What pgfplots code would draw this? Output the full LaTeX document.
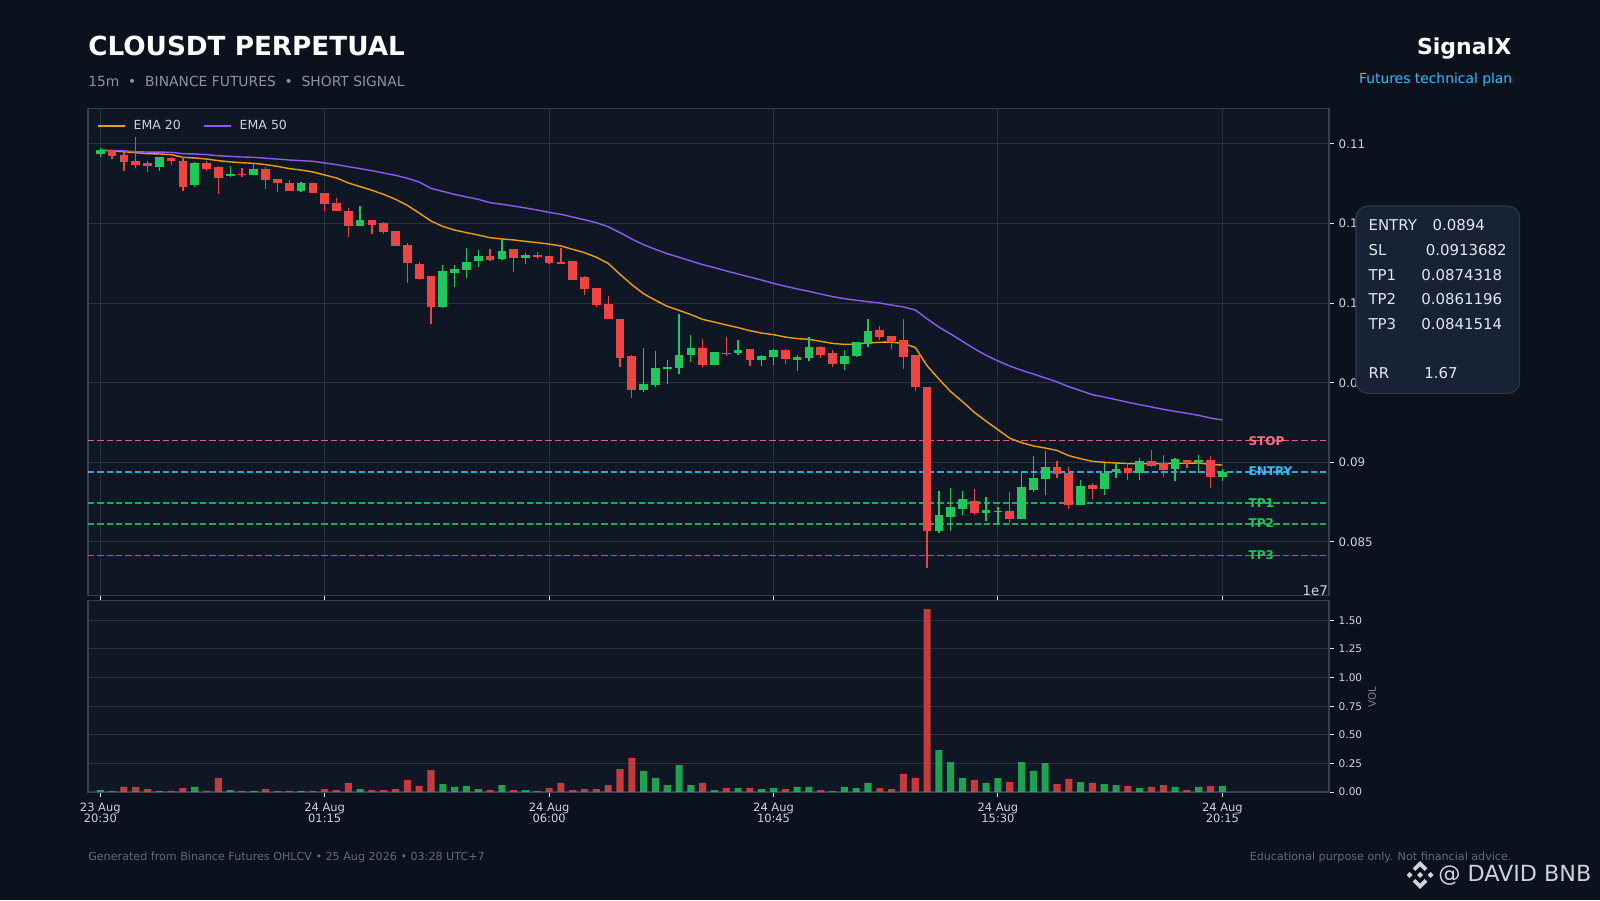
\documentclass[border=0pt]{standalone}
\usepackage{pgfplots}
\usepackage{pgfplotstable}
\usepackage{fontspec}
\setmainfont{DejaVu Sans}
\pgfplotsset{compat=1.18}
\definecolor{bg}{HTML}{0B111D}
\definecolor{panel}{HTML}{101724}
\definecolor{gridc}{HTML}{273241}
\definecolor{framec}{HTML}{334155}
\definecolor{tickc}{HTML}{E2E8F0}
\definecolor{labc}{HTML}{CBD5E1}
\definecolor{cR}{HTML}{EF4444}
\definecolor{cG}{HTML}{22C55E}
\definecolor{cO}{HTML}{F59E0B}
\definecolor{cP}{HTML}{8B5CF6}
\definecolor{cS}{HTML}{FB7185}
\definecolor{cE}{HTML}{38BDF8}
\definecolor{boxf}{HTML}{172334}
\definecolor{boxd}{HTML}{2C3A4D}
\definecolor{logoc}{HTML}{D0D5DD}
\pgfplotstableread{
i low bl bh high vol
1 .10907 .10926 .10962 .10962 .009
2 .10828 .10889 .10928 .10951 .044
3 .10851 .10868 .10893 .11046 .044
4 .10822 .10861 .10880 .10895 .026
6 .10866 .10893 .10912 .10918 .009
7 .10706 .10729 .10893 .10916 .035
9 .10832 .10843 .10878 .10895 .009
10 .10683 .10788 .10855 .10859 .122
12 .10794 .10803 .10811 .10847 .009
14 .10715 .10776 .10843 .10857 .026
15 .10696 .10757 .10780 .10780 .009
16 .10702 .10704 .10755 .10771 .009
18 .10690 .10692 .10755 .10757 .009
19 .10577 .10625 .10692 .10692 .026
20 .10577 .10581 .10629 .10658 .017
21 .10417 .10487 .10579 .10595 .079
23 .10436 .10493 .10522 .10522 .017
24 .10432 .10449 .10503 .10512 .017
25 .10359 .10361 .10453 .10453 .026
26 .10129 .10254 .10365 .10380 .105
27 .10147 .10154 .10246 .10260 .052
28 .09867 .09978 .10170 .10170 .192
33 .10267 .10271 .10296 .10338 .017
35 .10198 .10284 .10340 .10340 .017
37 .10279 .10290 .10302 .10319 .009
38 .10244 .10252 .10296 .10296 .035
39 .10244 .10248 .10258 .10344 .079
40 .10145 .10145 .10265 .10265 .017
41 .10053 .10089 .10164 .10168 .026
42 .09978 .09988 .10095 .10097 .026
43 .09898 .09900 .09995 .10043 .061
44 .09601 .09655 .09900 .09900 .201
45 .09406 .09454 .09668 .09672 .297
51 .09601 .09611 .09718 .09777 .079
53 .09670 .09678 .09687 .09785 .035
55 .09607 .09643 .09712 .09712 .035
58 .09620 .09649 .09706 .09714 .026
61 .09657 .09674 .09724 .09729 .017
62 .09601 .09618 .09687 .09704 .009
66 .09771 .09787 .09831 .09854 .035
67 .09714 .09762 .09794 .09794 .026
68 .09588 .09662 .09768 .09898 .157
69 .09450 .09473 .09674 .09674 .122
70 .08338 .08569 .09473 .09473 1.599
74 .08671 .08682 .08757 .08830 .105
77 .08621 .08644 .08694 .08812 .087
81 .08904 .08927 .08971 .09006 .070
82 .08709 .08732 .08933 .08969 .114
84 .08772 .08832 .08858 .08868 .079
87 .08891 .08933 .08964 .08994 .052
89 .08973 .08977 .09008 .09075 .044
90 .08910 .08952 .08996 .09044 .061
92 .08966 .09002 .09015 .09017 .017
94 .08841 .08908 .09015 .09038 .052
}\redc
\pgfplotstableread{
i low bl bh high vol
0 .10916 .10939 .10960 .10977 .017
5 .10828 .10857 .10918 .10918 .009
8 .10732 .10744 .10878 .10889 .044
11 .10794 .10799 .10811 .10859 .017
13 .10805 .10807 .10843 .10882 .009
17 .10696 .10704 .10755 .10763 .009
22 .10485 .10487 .10522 .10612 .026
29 .09967 .09978 .10200 .10242 .070
30 .10099 .10191 .10214 .10242 .044
31 .10156 .10210 .10256 .10348 .052
32 .10225 .10265 .10296 .10336 .026
34 .10273 .10277 .10327 .10405 .061
36 .10244 .10284 .10302 .10317 .017
46 .09444 .09454 .09492 .09720 .184
47 .09471 .09486 .09593 .09701 .122
48 .09494 .09586 .09599 .09645 .061
49 .09553 .09593 .09674 .09934 .236
50 .09628 .09674 .09718 .09802 .061
52 .09609 .09611 .09693 .09693 .017
54 .09676 .09687 .09706 .09771 .035
56 .09607 .09643 .09668 .09672 .026
57 .09613 .09662 .09706 .09712 .035
59 .09576 .09643 .09662 .09676 .044
60 .09639 .09655 .09724 .09785 .044
63 .09582 .09618 .09668 .09708 .044
64 .09660 .09668 .09756 .09758 .035
65 .09722 .09745 .09825 .09898 .079
71 .08554 .08569 .08669 .08818 .367
72 .08571 .08657 .08719 .08841 .262
73 .08671 .08707 .08770 .08818 .122
75 .08634 .08682 .08701 .08784 .079
76 .08613 .08690 .08694 .08717 .122
78 .08642 .08644 .08845 .08939 .262
79 .08816 .08826 .08902 .09042 .184
80 .08793 .08895 .08971 .09073 .253
83 .08730 .08732 .08851 .08891 .087
85 .08793 .08832 .08933 .08996 .070
86 .08904 .08939 .08958 .08996 .061
88 .08891 .08933 .09008 .09025 .035
91 .08885 .08958 .09021 .09025 .044
93 .08935 .09002 .09015 .09044 .044
95 .08883 .08908 .08939 .08960 .052
}\greenc
\pgfplotstableread{
i e20 e50
0 .10960 .10962
1 .10956 .10959
2 .10951 .10956
3 .10945 .10951
4 .10939 .10949
5 .10937 .10949
6 .10933 .10947
7 .10916 .10939
8 .10912 .10937
9 .10905 .10933
10 .10895 .10926
11 .10887 .10922
12 .10882 .10918
13 .10878 .10916
14 .10870 .10910
15 .10859 .10905
16 .10845 .10899
17 .10836 .10895
18 .10824 .10891
19 .10805 .10880
20 .10786 .10870
21 .10755 .10857
22 .10732 .10845
23 .10709 .10832
24 .10683 .10817
25 .10652 .10803
26 .10614 .10784
27 .10566 .10761
28 .10516 .10721
29 .10482 .10702
30 .10459 .10683
31 .10443 .10667
32 .10428 .10652
33 .10411 .10631
34 .10403 .10621
35 .10397 .10610
36 .10388 .10598
37 .10380 .10585
38 .10371 .10570
39 .10359 .10558
40 .10338 .10541
41 .10317 .10524
42 .10288 .10505
43 .10250 .10480
44 .10181 .10443
45 .10116 .10403
46 .10059 .10367
47 .10018 .10338
48 .09980 .10311
49 .09955 .10288
50 .09928 .10265
51 .09898 .10242
52 .09881 .10223
53 .09863 .10202
54 .09846 .10183
55 .09827 .10164
56 .09812 .10145
57 .09802 .10124
58 .09787 .10106
59 .09777 .10089
60 .09773 .10074
61 .09760 .10057
62 .09747 .10041
63 .09741 .10028
64 .09743 .10018
65 .09750 .10009
66 .09754 .10001
67 .09756 .09988
68 .09745 .09976
69 .09722 .09957
70 .09607 .09902
71 .09523 .09850
72 .09444 .09806
73 .09381 .09760
74 .09314 .09714
75 .09258 .09672
76 .09205 .09637
77 .09151 .09605
78 .09124 .09578
79 .09103 .09555
80 .09090 .09530
81 .09075 .09505
82 .09042 .09475
83 .09023 .09450
84 .09006 .09425
85 .09000 .09410
86 .08996 .09394
87 .08992 .09377
88 .08992 .09362
89 .08992 .09348
90 .08992 .09333
91 .08994 .09320
92 .08994 .09308
93 .08996 .09295
94 .08987 .09278
95 .08983 .09266
}\ema
\newcommand{\fs}[1]{\fontsize{#1}{#1}\selectfont}
\begin{document}
\begin{tikzpicture}[x=0.75pt,y=-0.75pt]
\fill[bg] (0,0) rectangle (1600,900);
\path[use as bounding box] (0,0) rectangle (1600,900);
\node[anchor=west,inner sep=0,text=white] at (88,45.5) {\fs{19.7}\bfseries CLOUSDT PERPETUAL};
\node[anchor=west,inner sep=0] at (88,81) {\color[HTML]{8A94A6}\fs{10.4}15m\ \ •\ \ BINANCE FUTURES\ \ •\ \ SHORT SIGNAL};
\node[anchor=east,inner sep=0,text=white] at (1511.5,48.5) {\fs{16.5}\bfseries SignalX};
\node[anchor=east,inner sep=0,text=cE] at (1512.5,79.5) {\fs{10.4}Futures technical plan};
\begin{axis}[
  at={(66pt,-446.475pt)},anchor=south west,
  width=930.75pt,height=365.25pt,scale only axis,
  axis background/.style={fill=panel},
  xmin=-1.04,xmax=104.03,ymin=0.081648,ymax=0.112238,
  axis line style={draw=framec,line width=0.8pt},
  tick align=outside,major tick length=3.75pt,
  tick style={draw=tickc,line width=0.7pt},
  xtick={0,19,38,57,76,95},xticklabels={},
  ytick={0.085,0.09,0.095,0.1,0.105,0.11},
  yticklabels={0.085,0.09,0.095,0.1,0.105,0.11},
  xtick pos=bottom,ytick pos=right,yticklabel pos=right,
  yticklabel style={text=labc,font=\fs{8.9}},
  grid=major,grid style={draw=gridc,line width=0.7pt},
  clip=false,
  legend columns=2,
  legend cell align=left,
  legend image code/.code={\draw[#1] (0pt,0pt) -- (20.3pt,0pt);},
  legend style={at={(0.005,0.987)},anchor=north west,fill=none,draw=none,
    text=labc,font=\fs{9.4},inner sep=2pt,
    /tikz/every odd column/.append style={column sep=4pt},
    /tikz/every even column/.append style={column sep=14.8pt}},
]
\addplot[cS,dash pattern=on 4.7pt off 2.3pt,line width=1.1pt,opacity=0.85,forget plot] coordinates {(-1.04,0.0913682)(104.03,0.0913682)};
\addplot[cE,dash pattern=on 4.7pt off 2.3pt,line width=1.1pt,opacity=0.85,forget plot] coordinates {(-1.04,0.0894)(104.03,0.0894)};
\addplot[cG,dash pattern=on 4.7pt off 2.3pt,line width=1.1pt,opacity=0.85,forget plot] coordinates {(-1.04,0.0874318)(104.03,0.0874318)};
\addplot[cG,dash pattern=on 4.7pt off 2.3pt,line width=1.1pt,opacity=0.85,forget plot] coordinates {(-1.04,0.0861196)(104.03,0.0861196)};
\addplot[cG,dash pattern=on 4.7pt off 2.3pt,line width=1.1pt,opacity=0.85,forget plot] coordinates {(-1.04,0.0841514)(104.03,0.0841514)};
\addplot[cO,line width=1.05pt] table[x=i,y=e20] {\ema};
\addlegendentry{EMA 20}
\addplot[cP,line width=1.05pt] table[x=i,y=e50] {\ema};
\addlegendentry{EMA 50}
% wicks
\addplot[draw=none,forget plot,error bars/.cd,y dir=plus,y explicit,error mark=none,error bar style={draw=cR,line width=0.95pt}]
  table[x=i,y=low,y error plus expr=\thisrow{high}-\thisrow{low}] {\redc};
\addplot[draw=none,forget plot,error bars/.cd,y dir=plus,y explicit,error mark=none,error bar style={draw=cG,line width=0.95pt}]
  table[x=i,y=low,y error plus expr=\thisrow{high}-\thisrow{low}] {\greenc};
% bodies
\addplot[draw=none,forget plot,error bars/.cd,y dir=plus,y explicit,error mark=none,error bar style={draw=cR,line width=6.5pt}]
  table[x=i,y=bl,y error plus expr=\thisrow{bh}-\thisrow{bl}] {\redc};
\addplot[draw=none,forget plot,error bars/.cd,y dir=plus,y explicit,error mark=none,error bar style={draw=cG,line width=6.5pt}]
  table[x=i,y=bl,y error plus expr=\thisrow{bh}-\thisrow{bl}] {\greenc};
\node[anchor=west,inner sep=0,text=cS] at (axis cs:97.2,0.09136) {\fs{9}\bfseries STOP};
\node[anchor=west,inner sep=0,text=cE] at (axis cs:97.2,0.08945) {\fs{9}\bfseries ENTRY};
\node[anchor=west,inner sep=0,text=cG] at (axis cs:97.2,0.08744) {\fs{9}\bfseries TP1};
\node[anchor=west,inner sep=0,text=cG] at (axis cs:97.2,0.08617) {\fs{9}\bfseries TP2};
\node[anchor=west,inner sep=0,text=cG] at (axis cs:97.2,0.08416) {\fs{9}\bfseries TP3};
\end{axis}
\begin{axis}[
  at={(66pt,-594pt)},anchor=south west,
  width=930.75pt,height=143.775pt,scale only axis,
  axis background/.style={fill=panel},
  xmin=-1.04,xmax=104.03,ymin=0,ymax=1.675,
  axis line style={draw=framec,line width=0.8pt},
  tick align=outside,major tick length=3.75pt,
  tick style={draw=tickc,line width=0.7pt},
  xtick={0,19,38,57,76,95},
  xticklabels={{23 Aug\\20:30},{24 Aug\\01:15},{24 Aug\\06:00},{24 Aug\\10:45},{24 Aug\\15:30},{24 Aug\\20:15}},
  ytick={0,0.25,0.5,0.75,1,1.25,1.5},
  yticklabels={0.00,0.25,0.50,0.75,1.00,1.25,1.50},
  xtick pos=bottom,ytick pos=right,yticklabel pos=right,
  xticklabel style={text=labc,font=\fs{8.6},align=center,yshift=-0.6pt},
  yticklabel style={text=labc,font=\fs{7.9}},
  ymajorgrids,grid style={draw=gridc,line width=0.7pt},
  clip=false,
]
\addplot[ybar,bar width=5.3pt,bar shift=0pt,fill=cR,fill opacity=0.8,draw=none] table[x=i,y=vol] {\redc};
\addplot[ybar,bar width=5.3pt,bar shift=0pt,fill=cG,fill opacity=0.8,draw=none] table[x=i,y=vol] {\greenc};
\end{axis}
\node[anchor=east,inner sep=0,text=labc] at (1328,591) {\fs{10}1e7};
\node[rotate=90,inner sep=0] at (1372,697) {\color[HTML]{7C8696}\fs{7.7}VOL};
\draw[boxd,fill=boxf,line width=0.8pt,rounded corners=9pt] (1356,206) rectangle (1519.7,393.3);
\begin{scope}[every node/.style={anchor=west,inner sep=0,text=tickc,font=\fs{11.2}}]
\node at (1368.3,225) {ENTRY};\node at (1432.3,225) {0.0894};
\node at (1368.3,250.4) {SL};\node at (1425.7,250.4) {0.0913682};
\node at (1368.3,275) {TP1};\node at (1421,275) {0.0874318};
\node at (1368.3,299) {TP2};\node at (1421,299) {0.0861196};
\node at (1368.3,324) {TP3};\node at (1421,324) {0.0841514};
\node at (1368.3,373) {RR};\node at (1424,373) {1.67};
\end{scope}
\node[anchor=west,inner sep=0] at (88,857) {\color[HTML]{5F6B7C}\fs{8.35}Generated from Binance Futures OHLCV • 25 Aug 2026 • 03:28 UTC+7};
\node[anchor=east,inner sep=0] at (1511.7,857) {\color[HTML]{5F6B7C}\fs{8.35}Educational purpose only. Not financial advice.};
\node[anchor=west,inner sep=0] at (1438,875.5) {\color[HTML]{CDD3DC}\fs{16.7}@ DAVID BNB};
\begin{scope}[shift={(1420,875)}]
\fill[logoc] (0,-14)--(7.3,-6.7)--(4.6,-4)--(0,-8.6)--(-4.6,-4)--(-7.3,-6.7)--cycle;
\fill[logoc] (0,14)--(7.3,6.7)--(4.6,4)--(0,8.6)--(-4.6,4)--(-7.3,6.7)--cycle;
\fill[logoc] (-13.5,0)--(-10.5,-3)--(-7.5,0)--(-10.5,3)--cycle;
\fill[logoc] (13.5,0)--(10.5,-3)--(7.5,0)--(10.5,3)--cycle;
\fill[logoc] (-3,0)--(0,-3)--(3,0)--(0,3)--cycle;
\end{scope}
\end{tikzpicture}
\end{document}
